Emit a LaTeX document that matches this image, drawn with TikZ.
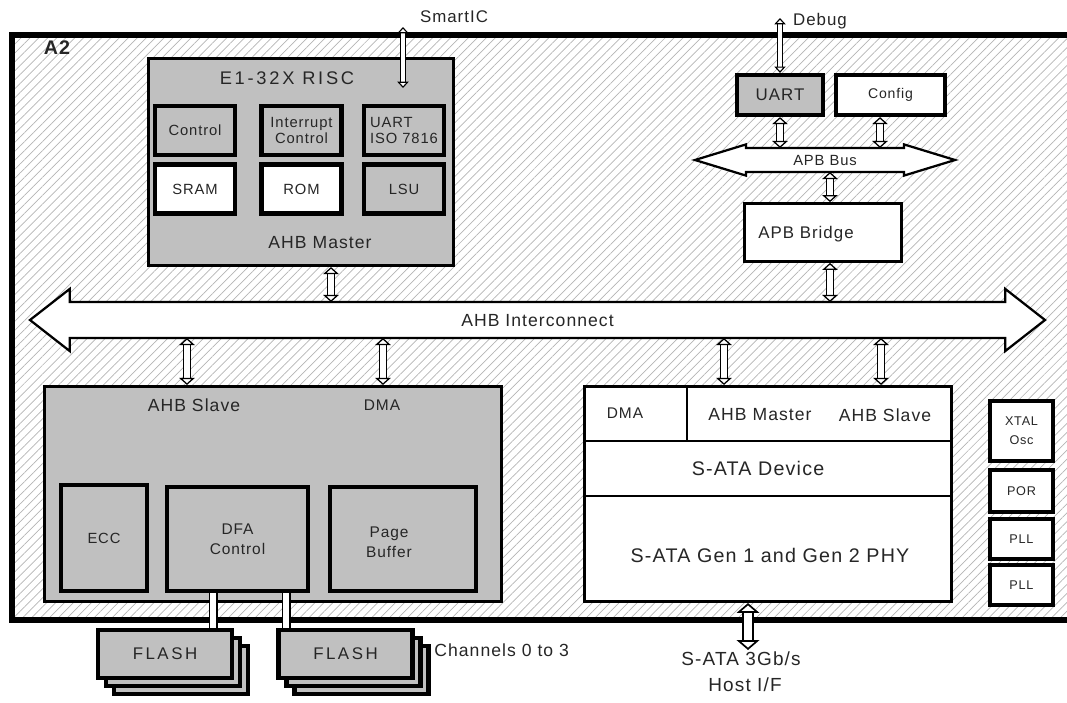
\documentclass[tikz,border=0pt]{standalone}
\usepackage{fontspec}
\setmainfont{Liberation Sans}[LetterSpace=6]
\newfontfamily\widefont{Liberation Sans}[LetterSpace=15]
\usetikzlibrary{arrows.meta, shapes.arrows, patterns.meta}
\definecolor{boxgray}{HTML}{C0C0C0}
\definecolor{hatchline}{HTML}{B4B4B4}
\definecolor{darktext}{HTML}{262626}
\tikzset{
  fs/.style 2 args={font=\fontsize{#1}{#2}\selectfont},
  wfs/.style={font=\widefont\fontsize{#1}{#1}\selectfont},
  lbl/.style={inner sep=0pt, text=darktext, align=center},
  blk/.style={rectangle, draw=black, line width=2.2pt, fill=boxgray, inner sep=0pt},
  cell/.style={blk, line width=3.2pt, minimum width=20mm, minimum height=12.2mm, lbl, fs={10.5}{11}},
  wcell/.style={cell, fill=white},
  sq/.style={blk, fill=white, line width=3pt, minimum width=15.75mm, lbl, fs={9}{13.5}},
  flash/.style={blk, line width=3pt, minimum width=33.5mm, minimum height=12mm, lbl, wfs=12},
  hbus/.style={double arrow, draw=black, line width=1.6pt, fill=white, lbl, text depth=0pt},
  sep/.style={draw=black, line width=1.6pt},
  bus/.style={draw=black, line width=0.9pt, double=white, double distance=4.4pt,
    >={Triangle[length=5pt, width=11pt, fill=white]}, <->},
  thinbus/.style={draw=black, line width=0.8pt, double=white, double distance=2.4pt,
    >={Triangle[length=4.5pt, width=8pt, fill=white]}, <->},
  hostbus/.style={draw=black, line width=1.2pt, double=white, double distance=6pt,
    >={Triangle[length=7pt, width=16pt, fill=white]}, <->},
  link/.style={draw=black, line width=1pt, double=white, double distance=4.4pt},
}

\begin{document}
\begin{tikzpicture}[x=0.25mm, y=-0.25mm]
\useasboundingbox (0,0) rectangle (1067,703);

% ===== Chip =====
\node[draw=black, line width=3.6pt, pattern={Lines[angle=45, distance=4.5pt, line width=0.5pt]},
      pattern color=hatchline, minimum width=272mm, minimum height=146.25mm, inner sep=0pt] (chip) at (556,327.5) {};
\node[lbl, font=\fontsize{14}{14}\selectfont\bfseries] (chipname) at (57,48) {A2};

% ===== RISC core =====
\node[blk, minimum width=76.25mm, minimum height=51.75mm] (risc) at (301,162) {};
\node[lbl, wfs=13] (risctitle) at (287,78) {E1-32X RISC};
\node[cell] (ctrl) at (195,130.5) {Control};
\node[cell] (irq) at (301.5,130.5) {Interrupt\\Control};
\node[cell, align=left] (isouart) at (404,130.5) {UART\\ISO 7816};
\node[wcell] (sram) at (195,189) {SRAM};
\node[wcell] (rom) at (301.5,189) {ROM};
\node[cell] (lsu) at (404,189) {LSU};
\node[lbl, fs={12.5}{12.5}] (riscmst) at (320,243) {AHB Master};

% ===== APB side =====
\node[blk, line width=3pt, minimum width=21.5mm, minimum height=10mm, lbl, fs={12}{12}] (uart) at (780,95) {UART};
\node[blk, fill=white, line width=3pt, minimum width=27.25mm, minimum height=10mm, lbl, fs={10}{10}] (config) at (890.5,95) {Config};
\node[hbus, minimum height=65mm, text height=7.5pt, inner ysep=4pt, double arrow head extend=0.9mm,
      double arrow tip angle=34, fs={10.5}{10.5}] (apb) at (825,160) {APB Bus};
\node[blk, fill=white, line width=2pt, minimum width=39.25mm, minimum height=14.5mm] (bridge) at (823,232.5) {};
\node[lbl, fs={12}{12}] (bridgetxt) at (806,234) {APB Bridge};

% ===== AHB =====
\node[hbus, minimum height=253.75mm, text height=9pt, inner ysep=7.5pt, double arrow head extend=3.25mm,
      double arrow tip angle=76, fs={12.5}{12.5}] (ahb) at (537.5,320) {AHB Interconnect};
\coordinate (ahbN) at ([yshift=4.5mm]ahb.center);
\coordinate (ahbS) at ([yshift=-4.5mm]ahb.center);
\coordinate (apbN) at ([yshift=3mm]apb.center);
\coordinate (apbS) at ([yshift=-3mm]apb.center);

% ===== Flash controller =====
\node[blk, minimum width=114.25mm, minimum height=53.75mm] (ctl) at (273,494) {};
\node[lbl, fs={12.5}{12.5}] (ctlslv) at (194,405) {AHB Slave};
\node[lbl, fs={11}{11}] (ctldma) at (382,405) {DMA};
\node[cell, minimum width=21.5mm, minimum height=26.5mm] (ecc) at (104,538) {ECC};
\node[cell, minimum width=35.25mm, minimum height=26mm, fs={11}{14}] (dfa) at (237.5,539) {DFA\\Control};
\node[cell, minimum width=36.5mm, minimum height=26mm] (pagebuf) at (403,539) {};
\node[lbl, fs={11}{14}] (pagebuftxt) at (389,542) {Page\\Buffer};

% ===== S-ATA =====
\node[blk, fill=white, minimum width=91.75mm, minimum height=53.75mm] (sata) at (768,494) {};
\draw[sep] (sata.west |- 0,441) -- (sata.east |- 0,441);
\draw[sep] (sata.west |- 0,496) -- (sata.east |- 0,496);
\draw[sep] (687,0 |- sata.north) -- (687,441);
\node[lbl, fs={11}{11}] (satadma) at (625,413) {DMA};
\node[lbl, fs={12.5}{12.5}] (satamst) at (760,415) {AHB Master};
\node[lbl, fs={12.5}{12.5}] (sataslv) at (885,415) {AHB Slave};
\node[lbl, fs={14}{14}] (satadev) at (758,468) {S-ATA Device};
\node[lbl, fs={14}{14}] (sataphy) at (770,555) {S-ATA Gen 1 and Gen 2 PHY};

% ===== Clocks =====
\node[sq, minimum height=15mm] (xtal) at (1021.5,431) {XTAL\\Osc};
\node[sq, minimum height=10.5mm] (por) at (1021.5,491) {POR};
\node[sq, minimum height=10mm] (pll1) at (1021.5,539) {PLL};
\node[sq, minimum height=10mm] (pll2) at (1021.5,585) {PLL};

% ===== Flash devices =====
\node[flash] (flash1c) at (181,670) {};
\node[flash] (flash1b) at (173,662) {};
\node[flash] (flash1) at (165,654) {FLASH};
\node[flash] (flash2c) at (361.5,670) {};
\node[flash] (flash2b) at (353.5,662) {};
\node[flash] (flash2) at (345.5,654) {FLASH};
\node[lbl, fs={12.5}{12.5}, anchor=west] (chan) at (434,650) {Channels 0 to 3};

% ===== External pins =====
\coordinate (smartin) at (403,27);
\coordinate (smartend) at (403,88);
\coordinate (dbgin) at (780,18);
\coordinate (hostend) at (748,650);
\node[lbl, fs={12}{12}] (smartlbl) at (454,17) {SmartIC};
\node[lbl, fs={12}{12}] (dbglbl) at (820,21) {Debug};
\node[lbl, fs={13.5}{13.5}] (hostlbl) at (741,659) {S-ATA 3Gb/s};
\node[lbl, fs={13.5}{13.5}] (hostlbl2) at (745,685) {Host I/F};

% ===== Buses =====
\draw[bus] (331,0 |- risc.south) -- (331,0 |- ahbN);
\draw[bus] (830,0 |- bridge.south) -- (830,0 |- ahbN);
\draw[bus] (187,0 |- ahbS) -- (187,0 |- ctl.north);
\draw[bus] (383,0 |- ahbS) -- (383,0 |- ctl.north);
\draw[bus] (724,0 |- ahbS) -- (724,0 |- sata.north);
\draw[bus] (881,0 |- ahbS) -- (881,0 |- sata.north);
\draw[bus] (780,0 |- uart.south) -- (780,0 |- apbN);
\draw[bus] (880,0 |- config.south) -- (880,0 |- apbN);
\draw[bus] (830,0 |- bridge.north) -- (830,0 |- apbS);
\draw[thinbus] (smartin) -- (smartend);
\draw[thinbus] (dbgin) -- (780,0 |- uart.north);
\draw[hostbus] (748,0 |- sata.south) -- (hostend);
\draw[link] (213,0 |- dfa.south) -- (213,0 |- flash1.north);
\draw[link] (286,0 |- dfa.south) -- (286,0 |- flash2.north);

\end{tikzpicture}
\end{document}
